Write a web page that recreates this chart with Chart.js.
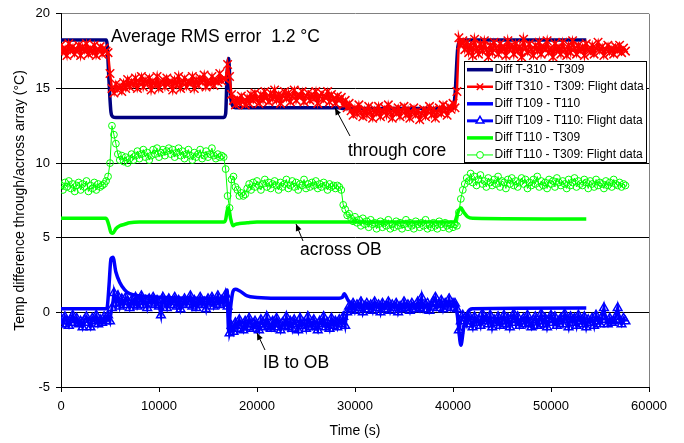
<!DOCTYPE html>
<html>
<head>
<meta charset="utf-8">
<script src="https://cdn.jsdelivr.net/npm/chart.js@4.4.0/dist/chart.umd.min.js"></script>
<style>
  html, body { margin: 0; padding: 0; background: #fff; }
  #wrap { width: 684px; height: 443px; }
</style>
</head>
<body>
<div id="wrap"><canvas id="chart" width="684" height="443"></canvas></div>
<script>
"use strict";

const FONT = "'Liberation Sans', Arial, Helvetica, sans-serif";

// время (с) для полётных данных
const flightTime = [
  0, 200, 400, 600, 800, 1000, 1200, 1400, 1600, 1800,
  2000, 2200, 2400, 2600, 2800, 3000, 3200, 3400, 3600, 3800,
  4000, 4200, 4400, 4600, 4800, 5000, 5200, 5400, 5600, 5800,
  6000, 6200, 6400, 6600, 6800, 7000, 7200, 7400, 7600, 7800,
  8000, 8200, 8400, 8600, 8800, 9000, 9200, 9400, 9600, 9800,
  10000, 10200, 10400, 10600, 10800, 11000, 11200, 11400, 11600, 11800,
  12000, 12200, 12400, 12600, 12800, 13000, 13200, 13400, 13600, 13800,
  14000, 14200, 14400, 14600, 14800, 15000, 15200, 15400, 15600, 15800,
  16000, 16200, 16400, 16600, 16800, 17000, 17200, 17400, 17600, 17800,
  18000, 18200, 18400, 18600, 18800, 19000, 19200, 19400, 19600, 19800,
  20000, 20200, 20400, 20600, 20800, 21000, 21200, 21400, 21600, 21800,
  22000, 22200, 22400, 22600, 22800, 23000, 23200, 23400, 23600, 23800,
  24000, 24200, 24400, 24600, 24800, 25000, 25200, 25400, 25600, 25800,
  26000, 26200, 26400, 26600, 26800, 27000, 27200, 27400, 27600, 27800,
  28000, 28200, 28400, 28600, 28800, 29000, 29200, 29400, 29600, 29800,
  30000, 30200, 30400, 30600, 30800, 31000, 31200, 31400, 31600, 31800,
  32000, 32200, 32400, 32600, 32800, 33000, 33200, 33400, 33600, 33800,
  34000, 34200, 34400, 34600, 34800, 35000, 35200, 35400, 35600, 35800,
  36000, 36200, 36400, 36600, 36800, 37000, 37200, 37400, 37600, 37800,
  38000, 38200, 38400, 38600, 38800, 39000, 39200, 39400, 39600, 39800,
  40000, 40200, 40400, 40600, 40800, 41000, 41200, 41400, 41600, 41800,
  42000, 42200, 42400, 42600, 42800, 43000, 43200, 43400, 43600, 43800,
  44000, 44200, 44400, 44600, 44800, 45000, 45200, 45400, 45600, 45800,
  46000, 46200, 46400, 46600, 46800, 47000, 47200, 47400, 47600, 47800,
  48000, 48200, 48400, 48600, 48800, 49000, 49200, 49400, 49600, 49800,
  50000, 50200, 50400, 50600, 50800, 51000, 51200, 51400, 51600, 51800,
  52000, 52200, 52400, 52600, 52800, 53000, 53200, 53400, 53600, 53800,
  54000, 54200, 54400, 54600, 54800, 55000, 55200, 55400, 55600, 55800,
  56000, 56200, 56400, 56600, 56800, 57000, 57200, 57400, 57600
];

// T310 - T309, полёт
const t310Flight = [
  17.9, 17.4, 17.7, 17.2, 18.0, 17.5, 17.8, 17.3, 17.6, 17.9,
  17.2, 17.8, 17.5, 18.0, 17.3, 17.7, 17.4, 17.9, 17.2, 17.6,
  17.8, 17.3, 17.7, 17.5,
  17.4, 16.0,
  15.0, 14.7, 15.3, 14.9, 15.2, 14.8, 15.4, 15.0, 15.6, 15.1,
  15.5, 15.2, 15.7, 15.0, 15.4, 15.8, 15.1, 15.6, 15.3, 15.7,
  14.9, 15.5, 15.2, 15.8, 15.0, 15.4, 15.6, 15.1, 15.7, 15.3,
  15.5, 14.9, 15.6, 15.2, 15.8, 15.0, 15.4, 15.7, 15.1, 15.5,
  15.3, 15.8, 15.0, 15.6, 15.2, 15.7, 15.4, 15.9, 15.1, 15.5,
  15.3, 15.8, 15.2, 15.6, 15.4, 16.0, 15.5, 15.7,
  15.6, 16.6, 15.8, 14.6,
  14.2, 13.9, 14.3, 14.0, 14.5, 14.1, 13.9, 14.4, 14.0, 14.6,
  14.2, 14.7, 14.3, 14.0, 14.6, 14.2, 14.8, 14.4, 14.1, 14.7,
  14.3, 14.9, 14.2, 14.6, 14.0, 14.5, 14.8, 14.3, 14.7, 14.1,
  14.5, 14.9, 14.2, 14.6, 14.4, 14.8, 14.1, 14.5, 14.7, 14.2,
  14.6, 14.3, 14.8, 14.0, 14.5, 14.7, 14.2, 14.4, 14.8, 14.1,
  14.6, 14.3, 14.0, 14.5, 14.2,
  14.4, 13.9, 14.2, 13.7, 14.0,
  13.5, 13.2, 13.7, 13.3, 13.9, 13.4, 13.1, 13.6, 13.2, 13.8,
  13.4, 13.0, 13.6, 13.3, 13.8, 13.1, 13.5, 13.7, 13.2, 13.9,
  13.4, 13.0, 13.6, 13.3, 13.7, 13.1, 13.5, 13.8, 13.2, 13.6,
  13.0, 13.4, 13.7, 13.2, 13.5, 12.9, 13.3, 13.6, 13.1, 13.5,
  13.8, 13.2, 13.6, 13.0, 13.4, 13.7, 13.3, 13.9, 13.5, 13.2,
  13.8, 13.6, 14.0,
  13.7, 14.8, 18.4, 17.9, 18.2,
  17.6, 18.1, 17.4, 17.9, 17.2, 18.3, 17.7, 17.3, 18.0, 17.5,
  18.2, 17.6, 17.1, 17.9, 17.4, 18.1, 17.7, 17.3, 18.0, 17.5,
  17.8, 17.2, 18.2, 17.6, 17.9, 17.3, 18.0, 17.5, 17.8, 17.1,
  18.3, 17.7, 17.4, 18.0, 17.6, 17.2, 17.9, 17.5, 18.1, 17.3,
  17.8, 17.6, 18.2, 17.4, 17.7, 17.1, 18.0, 17.5, 17.8, 17.3,
  18.1, 17.6, 17.2, 17.9, 17.4, 18.2, 17.7, 17.3, 17.9, 17.5,
  17.8, 17.2, 18.0, 17.6, 17.4, 17.9, 17.3, 17.7, 18.1, 17.5,
  17.8, 17.2, 17.6, 17.9, 17.4, 17.7, 17.3, 17.8, 17.5, 17.9,
  17.4, 17.7, 17.5
];

// T109 - T110, полёт
const t109Flight = [
  -0.4, -0.8, -0.3, -0.6, -0.9, -0.5, -0.2, -0.7, -0.4, -0.8,
  -0.6, -1.0, -0.5, -0.3, -0.7, -1.0, -0.4, -0.6, -0.2, -0.8,
  -0.5, -0.7, -0.3, -0.6,
  -0.2, -0.6,
  0.3, 1.3, 0.6, 1.1, 0.4, 0.9, 0.5, 1.0, 0.7, 0.3,
  0.8, 0.5, 1.0, 0.4, 0.7, 1.1, 0.5, 0.8, 0.3, 0.9,
  0.6, 1.0, 0.5, 0.8, 0.4, -0.2, 1.0, 0.6, 0.3, 0.9,
  0.5, 0.7, 1.0, 0.4, 0.8, 0.2, 0.6, 0.9, 0.5, 0.7,
  1.1, 0.4, 0.8, 0.3, 0.6, 1.0, 0.5, 0.7, 0.2, 0.9,
  0.6, 1.0, 0.4, 0.7, 1.1, 0.5, 0.8, 0.6,
  1.2, 0.4, -1.4, -0.9,
  -1.3, -0.7, -1.1, -0.5, -0.9, -1.2, -0.6, -1.0, -0.4, -0.8,
  -1.1, -0.6, -0.9, -1.2, -0.5, -0.8, -1.0, -0.3, -0.9, -1.1,
  -0.6, -1.0, -0.4, -0.8, -1.2, -0.7, -0.9, -0.3, -1.0, -0.6,
  -1.1, -0.5, -0.8, -1.2, -0.4, -0.9, -0.7, -1.1, -0.3, -0.8,
  -1.0, -0.5, -0.9, -1.2, -0.6, -0.8, -0.3, -1.0, -0.7, -1.1,
  -0.4, -0.9, -0.6, -1.0, -0.5,
  -0.8, -0.3, -0.9, 0.0, 0.4,
  0.2, 0.6, 0.1, 0.5, 0.3, 0.7, 0.0, 0.4, 0.6, 0.2,
  0.5, 0.1, 0.7, 0.3, 0.5, 0.0, 0.6, 0.2, 0.4, 0.7,
  0.1, 0.5, 0.3, 0.6, 0.0, 0.4, 0.2, 0.7, 0.3, 0.5,
  0.1, 0.6, 0.4, 0.2, 0.7, 0.3, 1.0, 0.2, 0.5, 0.6,
  0.1, 0.4, 0.7, 1.0, 0.3, 0.5, 0.8, 0.2, 0.6, 0.4,
  0.9, 0.3, 0.6,
  0.6, 0.2, -1.2, -0.6, -0.2,
  -0.4, -0.8, -0.2, -0.6, -1.0, -0.3, -0.7, -0.5, -0.9, -0.1,
  -0.6, -0.4, -0.8, -0.2, -1.0, -0.5, -0.7, -0.3, -0.9, -0.6,
  -0.2, -0.8, -0.4, -1.0, -0.5, -0.1, -0.7, -0.3, -0.9, -0.6,
  -0.4, -0.8, -0.2, -0.7, -1.0, -0.5, -0.3, -0.9, -0.6, -0.1,
  -0.8, -0.4, -1.0, -0.5, -0.2, -0.7, -0.3, -0.9, -0.6, -0.4,
  -0.8, -0.1, -0.5, -1.0, -0.3, -0.7, -0.4, -0.9, -0.2, -0.6,
  -0.8, -0.3, -1.0, -0.5, -0.7, -0.4, -0.9, -0.2, -0.6, -0.8,
  -0.3, 0.3, -0.5, -0.8, -0.4, -0.7, -0.6, -0.3, 0.3, -0.5,
  -0.8, -0.4, -0.6
];

// T110 - T309, полёт
const t110Flight = [
  8.5, 8.2, 8.7, 8.4, 8.8, 8.3, 8.6, 8.1, 8.5, 8.7,
  8.2, 8.6, 8.4, 8.8, 8.1, 8.5, 8.3, 8.7, 8.2, 8.6,
  8.4, 8.5, 8.6, 8.8,
  9.1, 10.0,
  12.5, 11.9, 11.3, 10.6, 10.2, 10.5, 10.1, 10.4, 10.0, 10.3,
  10.6, 10.2, 10.5, 10.8, 10.3, 10.6, 10.9, 10.4, 10.7, 10.2,
  10.5, 10.9, 10.6, 11.0, 10.4, 10.7, 10.9, 10.5, 10.8, 11.0,
  10.6, 10.9, 10.4, 10.7, 11.0, 10.5, 10.8, 10.3, 10.6, 10.9,
  10.5, 10.2, 10.7, 10.4, 10.6, 10.9, 10.3, 10.5, 10.8, 10.4,
  10.6, 11.0, 10.5, 10.3, 10.6, 10.4, 10.5, 10.4,
  9.6, 7.8, 7.0, 8.9,
  9.1, 8.4, 8.2, 7.8, 8.0, 7.8, 7.9, 8.3, 8.6, 8.2,
  8.7, 8.4, 8.8, 8.5, 8.2, 8.6, 8.9, 8.4, 8.7, 8.3,
  8.6, 8.8, 8.5, 8.2, 8.7, 8.4, 8.6, 8.9, 8.3, 8.5,
  8.8, 8.4, 8.7, 8.2, 8.6, 8.5, 8.9, 8.3, 8.6, 8.4,
  8.7, 8.5, 8.8, 8.3, 8.6, 8.4, 8.7, 8.5, 8.2, 8.6,
  8.4, 8.5, 8.3, 8.5, 8.4,
  8.2, 7.2, 6.9, 6.5, 6.6,
  6.3, 6.1, 6.4, 6.0, 6.2, 5.8, 6.3, 5.9, 6.1, 5.7,
  6.2, 5.9, 6.0, 5.6, 5.9, 6.1, 5.7, 6.0, 5.8, 6.2,
  5.6, 5.9, 5.7, 6.1, 5.8, 6.0, 5.6, 5.9, 6.2, 5.7,
  6.0, 5.8, 5.6, 6.1, 5.9, 5.7, 6.0, 5.8, 6.2, 5.6,
  5.9, 5.7, 6.0, 5.8, 5.6, 6.1, 5.9, 5.7, 6.0, 5.8,
  5.6, 5.9, 5.7,
  5.9, 5.8, 6.7, 7.6, 8.2,
  8.6, 9.0, 8.8, 9.3, 8.7, 9.1, 8.5, 8.9, 9.2, 8.6,
  8.8, 8.4, 9.0, 8.7, 8.5, 8.9, 8.6, 9.1, 8.4, 8.8,
  8.7, 8.3, 8.9, 8.6, 9.0, 8.5, 8.8, 8.4, 8.7, 9.0,
  8.6, 8.9, 8.3, 8.7, 8.5, 8.9, 8.6, 9.1, 8.4, 8.8,
  8.5, 8.7, 8.3, 8.9, 8.6, 8.8, 8.4, 9.0, 8.7, 8.5,
  8.8, 8.6, 8.3, 8.9, 8.5, 8.7, 9.0, 8.4, 8.8, 8.6,
  8.5, 8.9, 8.7, 8.3, 8.8, 8.6, 8.4, 8.9, 8.5, 8.7,
  8.6, 8.3, 8.8, 8.5, 8.7, 8.4, 8.9, 8.6, 8.5, 8.7,
  8.4, 8.6, 8.5
];

// время (с) для расчётной модели
const modelTime = [
  0, 4600, 4700, 4900, 5100, 5300, 5600, 6000, 6500, 7000,
  8000, 10000, 16600, 16800, 16950, 17100, 17300, 17550, 17800, 18200,
  19000, 20000, 22000, 28400, 28700, 28900, 29300, 29800, 30500, 35000,
  40000, 40200, 40500, 40800, 41100, 41500, 42000, 53600
];

const t310Model = [
  18.25, 18.25, 18.0, 15.5, 13.4, 13.1, 13.05, 13.05, 13.05, 13.05,
  13.05, 13.05, 13.05, 13.3, 16.0, 17.0, 14.5, 13.8, 13.7, 13.7,
  13.7, 13.7, 13.7, 13.7, 13.65, 13.65, 13.65, 13.65, 13.65, 13.65,
  13.65, 14.5, 17.8, 18.25, 18.25, 18.25, 18.25, 18.25
];

const t109Model = [
  0.25, 0.25, 0.3, 1.8, 3.6, 3.7, 2.7, 2.0, 1.5, 1.25,
  1.12, 1.02, 0.95, 1.2, 1.5, -1.2, 0.3, 1.4, 1.55, 1.45,
  1.1, 1.0, 0.95, 0.95, 1.0, 1.25, 0.8, 0.5, 0.45, 0.45,
  0.45, 0.7, -0.5, -2.2, -1.0, 0.0, 0.25, 0.3
];

const t110Model = [
  6.3, 6.3, 6.2, 5.8, 5.35, 5.3, 5.6, 5.8, 5.9, 6.0,
  6.05, 6.05, 6.05, 6.2, 6.8, 7.0, 6.3, 5.8, 5.9, 5.95,
  6.0, 6.05, 6.05, 6.05, 6.05, 6.05, 6.05, 6.05, 6.05, 6.05,
  6.05, 6.1, 6.7, 7.0, 6.7, 6.4, 6.3, 6.25
];

const seriesLabels = [
  'Diff T-310 - T309',
  'Diff T310 - T309: Flight data',
  'Diff T109 - T110',
  'Diff T109 - T110: Flight data',
  'Diff T110 - T309',
  'Diff T110 - T309: Flight data'
];

const yTicks = [-5, 0, 5, 10, 15, 20];
const xTicks = [0, 10000, 20000, 30000, 40000, 50000, 60000];

function toPoints(times, values) {
    return times.map((t, i) => ({ x: t, y: values[i] }));
}

// маркер для легенды
function drawMarker(ctx, style, x, y, r) {
    ctx.beginPath();
    if (style === 'crossRot') {
        const d = r * Math.SQRT1_2;
        ctx.moveTo(x - d, y - d); ctx.lineTo(x + d, y + d);
        ctx.moveTo(x - d, y + d); ctx.lineTo(x + d, y - d);
        ctx.stroke();
    } else if (style === 'triangle') {
        ctx.moveTo(x, y - r);
        ctx.lineTo(x + r * 0.866, y + r * 0.5);
        ctx.lineTo(x - r * 0.866, y + r * 0.5);
        ctx.closePath();
        ctx.fillStyle = '#fff';
        ctx.fill();
        ctx.stroke();
    } else if (style === 'circle') {
        ctx.arc(x, y, r, 0, Math.PI * 2);
        ctx.fillStyle = '#fff';
        ctx.fill();
        ctx.stroke();
    }
}

function drawArrow(ctx, x1, y1, x2, y2) {
    ctx.save();
    ctx.strokeStyle = '#000';
    ctx.fillStyle = '#000';
    ctx.lineWidth = 1;
    ctx.beginPath();
    ctx.moveTo(x1, y1);
    ctx.lineTo(x2, y2);
    ctx.stroke();
    const a = Math.atan2(y2 - y1, x2 - x1);
    const len = 7, w = 3;
    ctx.beginPath();
    ctx.moveTo(x2, y2);
    ctx.lineTo(x2 - len * Math.cos(a) + w * Math.sin(a), y2 - len * Math.sin(a) - w * Math.cos(a));
    ctx.lineTo(x2 - len * Math.cos(a) - w * Math.sin(a), y2 - len * Math.sin(a) + w * Math.cos(a));
    ctx.closePath();
    ctx.fill();
    ctx.restore();
}

// легенда и подписи поверх графика
const overlayPlugin = {
    id: 'overlay',
    afterDraw(chart) {
        const ctx = chart.ctx;
        ctx.save();

        // рамка легенды
        const box = { left: 464.5, top: 61.5, right: 646.5, bottom: 162.5 };
        ctx.fillStyle = '#fff';
        ctx.fillRect(box.left, box.top, box.right - box.left, box.bottom - box.top);
        ctx.strokeStyle = '#000';
        ctx.lineWidth = 1;
        ctx.strokeRect(box.left, box.top, box.right - box.left, box.bottom - box.top);

        chart.data.datasets.forEach((ds, k) => {
            const y = 69.7 + k * 17.05;
            ctx.strokeStyle = ds.borderColor;
            ctx.lineWidth = ds.borderWidth;
            ctx.beginPath();
            ctx.moveTo(467, y);
            ctx.lineTo(493, y);
            ctx.stroke();
            if (ds.pointStyle && ds.pointRadius > 0) {
                ctx.lineWidth = ds.pointBorderWidth;
                drawMarker(ctx, ds.pointStyle, 480, y, Math.min(ds.pointRadius, 4.5));
            }
            ctx.fillStyle = '#000';
            ctx.font = '12px ' + FONT;
            ctx.textAlign = 'left';
            ctx.textBaseline = 'middle';
            ctx.fillText(ds.label, 494.5, y);
        });

        // подписи
        ctx.fillStyle = '#000';
        ctx.font = '17.5px ' + FONT;
        ctx.textAlign = 'left';
        ctx.textBaseline = 'middle';
        ctx.fillText('Average RMS error  1.2 °C', 111, 37);
        ctx.fillText('through core', 348, 151);
        ctx.fillText('across OB', 300, 250);
        ctx.fillText('IB to OB', 263, 363);

        drawArrow(ctx, 350, 136, 335, 108);
        drawArrow(ctx, 303, 241, 296, 224);
        drawArrow(ctx, 265, 350, 257, 333);

        ctx.restore();
    }
};

const ctx = document.getElementById('chart').getContext('2d');

new Chart(ctx, {
    type: 'line',
    data: {
        datasets: [
            {
                label: seriesLabels[0],
                data: toPoints(modelTime, t310Model),
                borderColor: '#000080',
                borderWidth: 3.5,
                pointRadius: 0,
                cubicInterpolationMode: 'monotone',
                order: 6
            },
            {
                label: seriesLabels[1],
                data: toPoints(flightTime, t310Flight),
                borderColor: '#ff0000',
                borderWidth: 2.5,
                pointStyle: 'crossRot',
                pointRadius: 6,
                pointBorderWidth: 1.5,
                pointBorderColor: '#ff0000',
                pointBackgroundColor: '#ff0000',
                order: 5
            },
            {
                label: seriesLabels[2],
                data: toPoints(modelTime, t109Model),
                borderColor: '#0000ff',
                borderWidth: 3.5,
                pointRadius: 0,
                cubicInterpolationMode: 'monotone',
                order: 4
            },
            {
                label: seriesLabels[3],
                data: toPoints(flightTime, t109Flight),
                borderColor: '#0000ff',
                borderWidth: 3,
                pointStyle: 'triangle',
                pointRadius: 5,
                pointBorderWidth: 1.5,
                pointBorderColor: '#0000ff',
                pointBackgroundColor: 'rgba(0,0,0,0)',
                order: 3
            },
            {
                label: seriesLabels[4],
                data: toPoints(modelTime, t110Model),
                borderColor: '#00ff00',
                borderWidth: 3.5,
                pointRadius: 0,
                cubicInterpolationMode: 'monotone',
                order: 2
            },
            {
                label: seriesLabels[5],
                data: toPoints(flightTime, t110Flight),
                borderColor: '#00ff00',
                borderWidth: 1,
                pointStyle: 'circle',
                pointRadius: 3.4,
                pointBorderWidth: 1,
                pointBorderColor: '#00ff00',
                pointBackgroundColor: 'rgba(0,0,0,0)',
                order: 1
            }
        ]
    },
    options: {
        responsive: false,
        animation: false,
        layout: { padding: { left: 0, top: 11, right: 35, bottom: 0 } },
        plugins: {
            legend: { display: false },
            tooltip: { enabled: false }
        },
        scales: {
            x: {
                type: 'linear',
                min: xTicks[0],
                max: xTicks[xTicks.length - 1],
                afterBuildTicks: s => { s.ticks = xTicks.map(v => ({ value: v })); },
                afterFit: s => { s.height = 56; },
                ticks: {
                    color: '#000',
                    font: { family: FONT, size: 13 },
                    padding: 7,
                    maxRotation: 0,
                    autoSkip: false,
                    callback: v => String(v)
                },
                grid: {
                    color: c => (c.tick && c.tick.value === 60000) ? '#808080' : 'rgba(0,0,0,0)',
                    tickColor: '#000',
                    tickLength: 5
                },
                border: { color: '#000', width: 1 },
                title: {
                    display: true,
                    text: 'Time (s)',
                    color: '#000',
                    font: { family: FONT, size: 14 },
                    padding: { top: 0, bottom: 3 }
                }
            },
            y: {
                min: yTicks[0],
                max: yTicks[yTicks.length - 1],
                afterBuildTicks: s => { s.ticks = yTicks.map(v => ({ value: v })); },
                afterFit: s => { s.width = 61; },
                ticks: {
                    color: '#000',
                    font: { family: FONT, size: 13 },
                    padding: 6,
                    autoSkip: false,
                    callback: v => String(v)
                },
                grid: {
                    color: c => (c.tick && c.tick.value === 20) ? '#808080' : '#000',
                    tickColor: '#000',
                    tickLength: 5
                },
                border: { color: '#000', width: 1 },
                title: {
                    display: true,
                    text: 'Temp difference through/across array (°C)',
                    color: '#000',
                    font: { family: FONT, size: 14 },
                    padding: { top: 12, bottom: 0 }
                }
            }
        }
    },
    plugins: [overlayPlugin]
});
</script>
</body>
</html>
